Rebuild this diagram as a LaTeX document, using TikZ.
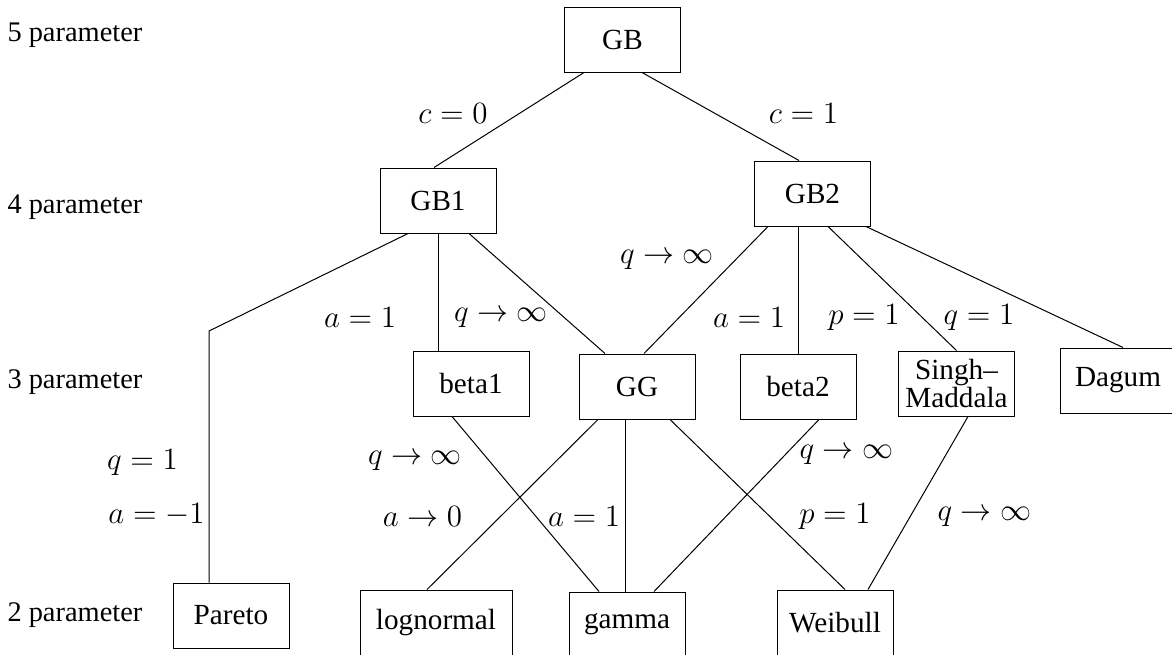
\RequirePackage{fix-cm}
\documentclass[tikz,border=0pt]{standalone}
\usepackage{fontspec}
\setmainfont{Liberation Serif}
\usetikzlibrary{calc}

\tikzset{
distbox/.style={draw, rectangle, minimum width=58pt, minimum height=32.5pt, inner sep=2pt, align=center, font=\fontsize{14.6}{14}\selectfont},
cond/.style={inner sep=0pt, font=\fontsize{15.5}{18}\selectfont},
lvl/.style={anchor=west, inner sep=0pt, font=\fontsize{14.2}{16}\selectfont}
}

\begin{document}
\begin{tikzpicture}
[x=0.5pt, y=-0.5pt, line width=0.5pt]

\useasboundingbox (0,0) rectangle (1172,654);

\node[lvl] (lvl5) at(7,35) {5 parameter};
\node[lvl] (lvl4) at(7,207) {4 parameter};
\node[lvl] (lvl3) at(7,382) {3 parameter};
\node[lvl] (lvl2) at(7,615) {2 parameter};

\node[distbox] (GB) at(622.5,39.5) {GB};

\node[distbox] (GB1) at(438,200.5) {GB1};
\node[distbox] (GB2) at(812.5,193.5) {GB2};

\node[distbox] (beta1) at(471,383.5) {beta1};
\node[distbox] (GG) at(637,386.5) {GG};
\node[distbox] (beta2) at(798,386.5) {beta2};
\node[distbox] (SM) at(956.5,383.5) {Singh--\\Maddala};
\node[distbox] (dagum) at(1118,380.5) {Dagum};

\node[distbox] (pareto) at(231,615.5) {Pareto};
\node[distbox, minimum width=76pt] (lognormal) at(436,622.5) {lognormal};
\node[distbox] (gamma) at(627,624.5) {gamma};
\node[distbox] (weibull) at(835,622.5) {Weibull};

\coordinate (kink) at(209,331);

\draw ($(GB.south)+(-38.5,0)$) -- ($(GB1.north)+(-4,0)$);
\draw ($(GB.south)+(19.5,0)$) -- ($(GB2.north)+(-13.5,0)$);

\draw ($(GB1.south)+(-30,0)$) -- (kink) -- (kink |- pareto.north);
\draw (GB1.south) -- (GB1.south |- beta1.north);
\draw ($(GB1.south)+(31,0)$) -- ($(GG.north)+(-32,0)$);

\draw ($(GB2.south)+(-44.5,0)$) -- ($(GG.north)+(7,0)$);
\draw (beta2.north) -- (beta2.north |- GB2.south);
\draw ($(GB2.south)+(15.5,0)$) -- (SM.north);
\draw ($(GB2.south)+(53.5,0)$) -- ($(dagum.north)+(5,0)$);

\draw ($(beta1.south)+(-19,0)$) -- ($(gamma.north)+(-28,0)$);
\draw ($(GG.south)+(-39,0)$) -- ($(lognormal.north)+(-9,0)$);
\draw ($(GG.south)+(-12,0)$) -- ($(gamma.north)+(-2,0)$);
\draw ($(GG.south)+(33,0)$) -- ($(weibull.north)+(10,0)$);
\draw ($(beta2.south)+(21,0)$) -- ($(gamma.north)+(27,0)$);
\draw ($(SM.south)+(11.5,0)$) -- ($(weibull.north)+(33,0)$);

% conditions
\node[cond] (c0) at(453,114) {$c=0$};
\node[cond] (c1) at(803.5,114) {$c=1$};

\node[cond] (a1GB1) at(360,318) {$a=1$};
\node[cond] (qGB1) at(501,318) {$q\to\infty$};
\node[cond] (qGB2) at(667,260) {$q\to\infty$};
\node[cond] (a1GB2) at(749,318) {$a=1$};
\node[cond] (p1GB2) at(864,318) {$p=1$};
\node[cond] (q1GB2) at(979,318) {$q=1$};

\node[cond] (q1par) at(142.5,463) {$q=1$};
\node[cond] (ampar) at(156.5,515) {$a=-1$};
\node[cond] (qbeta1) at(415,461) {$q\to\infty$};
\node[cond] (a0GG) at(422.5,517) {$a\to0$};
\node[cond] (a1GG) at(584,517) {$a=1$};
\node[cond] (qbeta2) at(846.5,455) {$q\to\infty$};
\node[cond] (p1GG) at(835,517) {$p=1$};
\node[cond] (qSM) at(984.5,517) {$q\to\infty$};

\end{tikzpicture}
\end{document}
